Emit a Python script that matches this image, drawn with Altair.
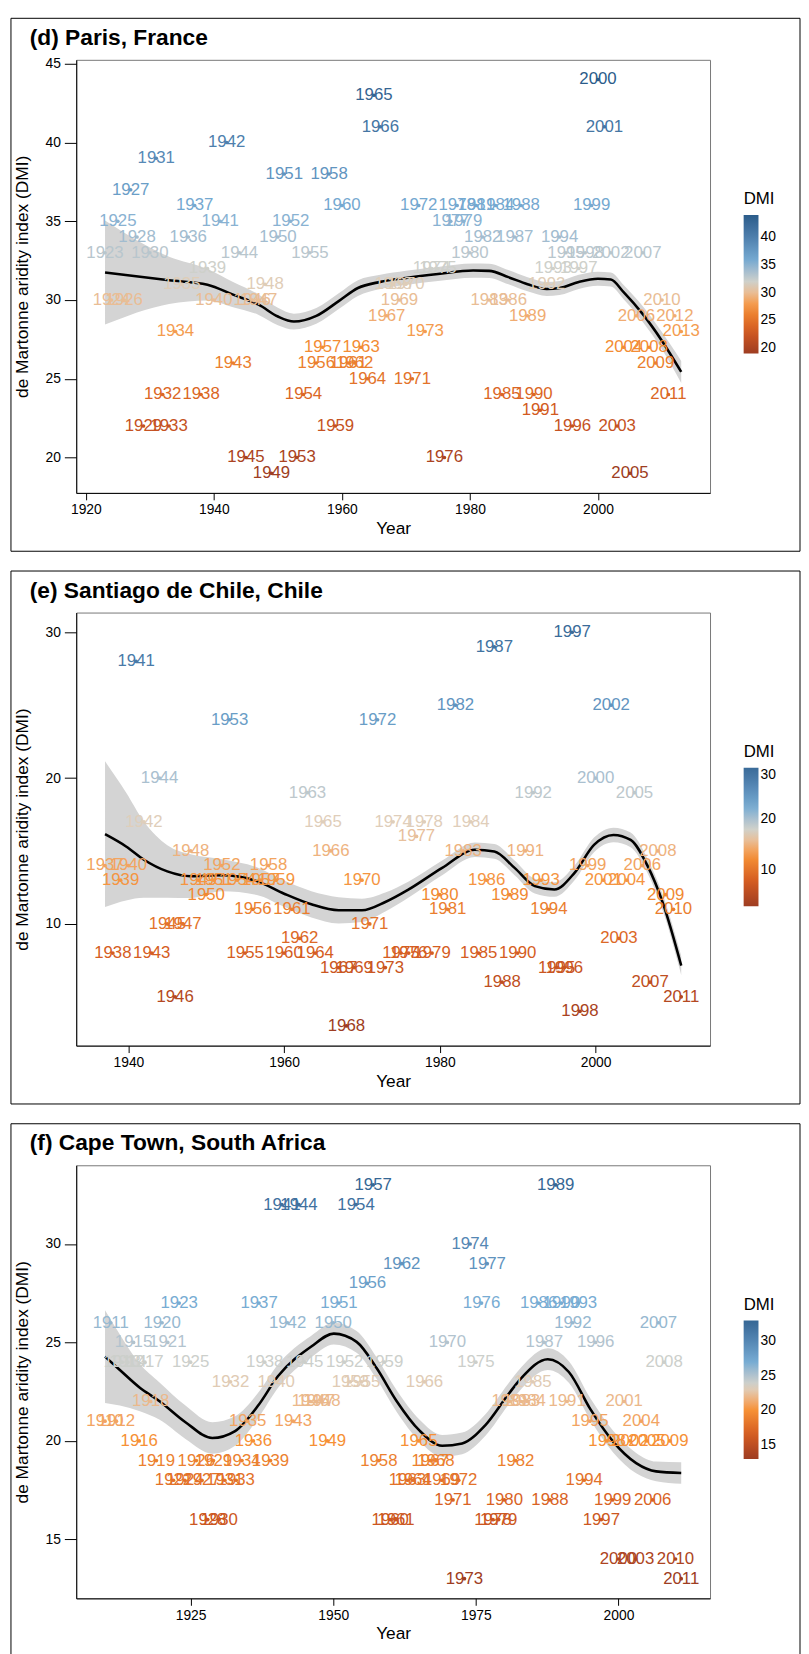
import altair as alt
import pandas as pd

FONT = "Liberation Sans"
W, H = 641, 438

# ---------------- data ----------------
PARIS_YEAR = list(range(1923, 2014))
PARIS_DMI = [33, 30, 35, 30, 37, 34, 22, 33, 39, 24,
             22, 28, 31, 34, 36, 24, 32, 30, 35, 40,
             26, 33, 20, 30, 30, 31, 19, 34, 38, 35,
             20, 24, 33, 26, 27, 38, 22, 36, 26, 26,
             27, 25, 43, 41, 29, 31, 30, 31, 25, 36,
             28, 32, 32, 20, 35, 36, 35, 33, 36, 34,
             30, 36, 24, 30, 34, 36, 29, 24, 23, 31,
             32, 34, 33, 22, 32, 33, 36, 44, 41, 33,
             22, 27, 19, 29, 33, 27, 26, 30, 24, 29,
             28]
PARIS_FIT_YEAR = [1923, 1933, 1939, 1943, 1947, 1950, 1952.5, 1956, 1959.5, 1962.5, 1966, 1970, 1975,
                  1980.5, 1983, 1986, 1989, 1992, 1994, 1997, 2000, 2002, 2004, 2007, 2010, 2013]
PARIS_FIT = [31.74, 31.25, 30.97, 30.34, 29.7, 28.95, 28.63, 28.99, 29.93, 30.76, 31.15, 31.4, 31.65,
             31.87, 31.85, 31.45, 31.0, 30.7, 30.76, 31.15, 31.35, 31.3, 30.5, 29.1, 27.4, 25.43]
PARIS_LO = [28.44, 29.75, 29.97, 29.54, 29.05, 28.4, 28.13, 28.49, 29.43, 30.26, 30.7, 30.95, 31.2,
            31.42, 31.4, 31.0, 30.55, 30.25, 30.31, 30.7, 30.9, 30.85, 30.05, 28.6, 26.85, 24.73]
PARIS_HI = [35.04, 32.75, 31.97, 31.14, 30.35, 29.5, 29.13, 29.49, 30.43, 31.26, 31.6, 31.85, 32.1,
            32.32, 32.3, 31.9, 31.45, 31.15, 31.21, 31.6, 31.8, 31.75, 30.95, 29.6, 27.95, 26.13]

SANT_YEAR = list(range(1937, 2012))
SANT_DMI = [14, 8, 13, 14, 28, 17, 8, 20, 10, 5,
            10, 15, 13, 12, 13, 14, 24, 13, 8, 11,
            13, 14, 13, 8, 11, 9, 19, 8, 17, 15,
            7, 3, 7, 13, 10, 24, 7, 17, 8, 8,
            16, 17, 8, 12, 11, 25, 15, 17, 8, 13,
            29, 6, 12, 8, 15, 19, 13, 11, 7, 7,
            30, 4, 14, 20, 13, 25, 9, 13, 19, 14,
            6, 15, 12, 11, 5]
SANT_FIT_YEAR = [1937, 1939.7, 1942, 1945, 1948, 1952, 1956.5, 1960, 1963.5, 1967, 1970, 1973, 1976,
                 1980.3, 1984.5, 1987, 1989.6, 1992.2, 1994.7, 1997.3, 1999.8, 2002.3, 2004.5, 2006.6,
                 2008.7, 2011]
SANT_FIT = [16.15, 15.31, 14.4, 13.6, 13.27, 13.33, 12.93, 12.07, 11.34, 10.93, 10.93, 11.5, 12.36,
            13.84, 15.08, 14.97, 13.84, 12.59, 12.36, 13.5, 15.42, 16.1, 15.76, 14.06, 11.34, 7.14]
SANT_LO = [11.15, 11.61, 11.8, 11.8, 11.77, 12.23, 11.98, 11.17, 10.44, 10.03, 10.13, 10.85, 11.81,
           13.34, 14.58, 14.47, 13.34, 12.09, 11.86, 13.0, 14.92, 15.6, 15.26, 13.56, 10.79, 6.49]
SANT_HI = [21.15, 19.01, 17.0, 15.4, 14.77, 14.43, 13.88, 12.97, 12.24, 11.83, 11.73, 12.15, 12.91,
           14.34, 15.58, 15.47, 14.34, 13.09, 12.86, 14.0, 15.92, 16.6, 16.26, 14.56, 11.89, 7.79]

CAPE_YEAR = list(range(1910, 2012))
CAPE_DMI = [21, 26, 21, 24, 24, 25, 20, 24, 22, 19,
            26, 25, 18, 27, 18, 24, 19, 18, 16, 19,
            16, 18, 23, 18, 19, 21, 20, 27, 24, 19,
            23, 32, 26, 21, 32, 24, 22, 22, 22, 20,
            26, 27, 24, 23, 32, 23, 28, 33, 19, 24,
            16, 16, 29, 18, 18, 20, 23, 19, 19, 18,
            25, 17, 18, 13, 30, 24, 27, 29, 16, 16,
            17, 22, 19, 22, 22, 23, 27, 25, 17, 33,
            27, 22, 26, 27, 18, 21, 25, 16, 20, 17,
            14, 22, 20, 14, 21, 20, 17, 26, 24, 20,
            14, 13]
CAPE_FIT_YEAR = [1910, 1912.6, 1916.1, 1919.5, 1924.1, 1928.8, 1932.8, 1936.8, 1940.3, 1946.1, 1950.1,
                 1954.1, 1957.6, 1961.1, 1965.1, 1969.1, 1972.6, 1976.6, 1980.7, 1983, 1987.6, 1991.3,
                 1995.1, 1999.1, 2003.1, 2006.6, 2011]
CAPE_FIT = [24.28, 23.6, 22.7, 22.03, 20.95, 20.15, 20.5, 21.78, 23.28, 24.78, 25.45,
            25.03, 23.7, 22.03, 20.53, 19.75, 19.87, 20.78, 22.37, 23.2, 24.15, 23.5,
            21.6, 19.95, 18.87, 18.45, 18.37]
CAPE_LO = [21.93, 21.8, 21.5, 21.08, 20.1, 19.35, 19.75, 21.13, 22.68, 24.23, 24.9,
           24.48, 23.15, 21.48, 19.98, 19.2, 19.32, 20.23, 21.82, 22.65, 23.6, 22.95,
           21.05, 19.4, 18.35, 17.95, 17.82]
CAPE_HI = [26.63, 25.4, 23.9, 22.98, 21.8, 20.95, 21.25, 22.43, 23.88, 25.33, 26.0,
           25.58, 24.25, 22.58, 21.08, 20.3, 20.42, 21.33, 22.92, 23.75, 24.7, 24.05,
           22.15, 20.5, 19.39, 18.95, 18.92]

PALETTE = ["#9E3D22", "#D45B21", "#F69035", "#D9D5C9", "#77ACD3", "#4F81AF", "#2B5C8A"]


def _rgb(h):
    h = h.lstrip("#")
    return [int(h[i:i + 2], 16) for i in (0, 2, 4)]


def _mix(c1, c2, t):
    a, b = _rgb(c1), _rgb(c2)
    return "#%02x%02x%02x" % tuple(int(round(x + (y - x) * t)) for x, y in zip(a, b))


def colour_scale(vals, mid):
    dmin, dmax = min(vals), max(vals)
    h = max(mid - dmin, dmax - mid)
    stops = [mid + h * (k - 3) / 3 for k in range(7)]
    cols = list(PALETTE)
    i = next(k for k in range(7) if stops[k] > dmin)
    if i > 0 and stops[i - 1] < dmin:
        c = _mix(cols[i - 1], cols[i], (dmin - stops[i - 1]) / (stops[i] - stops[i - 1]))
        stops = [dmin] + stops[i:]
        cols = [c] + cols[i:]
    j = max(k for k in range(len(stops)) if stops[k] < dmax)
    if j < len(stops) - 1 and stops[j + 1] > dmax:
        c = _mix(cols[j], cols[j + 1], (dmax - stops[j]) / (stops[j + 1] - stops[j]))
        stops = stops[:j + 1] + [dmax]
        cols = cols[:j + 1] + [c]
    return alt.Scale(domain=stops, range=cols, interpolate="lab")


def panel(title, years, dmi, fy, ffit, flo, fhi, mid, xticks, yticks, legvals):
    df = pd.DataFrame({"Year": years, "DMI": dmi})
    df["label"] = df["Year"].astype(str)
    sm = pd.DataFrame({"Year": fy, "fit": ffit, "lo": flo, "hi": fhi})

    xmin, xmax = min(years), max(years)
    ylo, yhi = min(min(dmi), min(flo)), max(max(dmi), max(fhi))
    xp, yp = 0.05 * (xmax - xmin), 0.05 * (yhi - ylo)
    xs = alt.Scale(domain=[xmin - xp, xmax + xp], nice=False, zero=False)
    ys = alt.Scale(domain=[ylo - yp, yhi + yp], nice=False, zero=False)

    xaxis = alt.Axis(values=xticks, format="d", title="Year", grid=False, tickSize=7,
                     labelPadding=3, titlePadding=3)
    yaxis = alt.Axis(values=yticks, title="de Martonne aridity index (DMI)", grid=False,
                     tickSize=12, labelPadding=4, titlePadding=14)
    cs = colour_scale(dmi, mid)
    leg = alt.Legend(title="DMI", orient="none", legendX=W + 34, legendY=133,
                     direction="vertical", gradientLength=140, gradientThickness=15,
                     values=legvals, gradientStrokeWidth=0, titlePadding=7)

    X = alt.X("Year:Q", scale=xs, axis=xaxis)
    Y = alt.Y("DMI:Q", scale=ys, axis=yaxis)
    C = alt.Color("DMI:Q", scale=cs, legend=leg)

    band = alt.Chart(sm).mark_area(color="#D4D4D4", opacity=1, interpolate="monotone").encode(
        x=alt.X("Year:Q", scale=xs, axis=xaxis),
        y=alt.Y("lo:Q", scale=ys, axis=yaxis), y2="hi:Q")
    line = alt.Chart(sm).mark_line(color="black", strokeWidth=2.6, interpolate="monotone").encode(
        x=alt.X("Year:Q", scale=xs, axis=xaxis),
        y=alt.Y("fit:Q", scale=ys, axis=yaxis))
    pts = alt.Chart(df).mark_circle(size=14, opacity=1).encode(x=X, y=Y, color=C)
    txt = alt.Chart(df).mark_text(fontSize=17, font=FONT, align="center", baseline="middle").encode(
        x=X, y=Y, color=C, text="label:N")

    one = pd.DataFrame({"k": [0]})
    ttl = alt.Chart(one).mark_text(text=title, font=FONT, fontSize=23, fontWeight="bold",
                                   align="left", baseline="middle", color="black").encode(
        x=alt.value(-47), y=alt.value(-22))
    box = alt.Chart(one).mark_rect(filled=False, stroke="black", strokeWidth=1).encode(
        x=alt.value(-66), x2=alt.value(W + 91), y=alt.value(-42), y2=alt.value(H + 59))

    return alt.layer(band, line, pts, txt, ttl, box).properties(width=W, height=H)


pd_ = panel("(d) Paris, France", PARIS_YEAR, PARIS_DMI, PARIS_FIT_YEAR, PARIS_FIT, PARIS_LO, PARIS_HI,
            31.5, [1920, 1940, 1960, 1980, 2000], [20, 25, 30, 35, 40, 45], [20, 25, 30, 35, 40])
pe_ = panel("(e) Santiago de Chile, Chile", SANT_YEAR, SANT_DMI, SANT_FIT_YEAR, SANT_FIT, SANT_LO,
            SANT_HI, 17.5, [1940, 1960, 1980, 2000], [10, 20, 30], [10, 20, 30])
pf_ = panel("(f) Cape Town, South Africa", CAPE_YEAR, CAPE_DMI, CAPE_FIT_YEAR, CAPE_FIT, CAPE_LO,
            CAPE_HI, 23.5, [1925, 1950, 1975, 2000], [15, 20, 25, 30], [15, 20, 25, 30])

chart = alt.vconcat(pd_, pe_, pf_, spacing=18).resolve_scale(
    x="independent", y="independent", color="independent"
).properties(
    padding={"left": 2, "top": 0, "right": 0, "bottom": 0}
).configure_view(
    stroke="#777777", strokeWidth=1
).configure_axis(
    labelFont=FONT, titleFont=FONT, labelFontSize=14, titleFontSize=17.5, titleFontWeight="normal",
    labelColor="black", titleColor="black", domainColor="black", tickColor="black",
    domainWidth=1, tickWidth=1
).configure_legend(
    labelFont=FONT, titleFont=FONT, labelFontSize=14, titleFontSize=17, titleFontWeight="normal",
    labelColor="black", titleColor="black"
)

chart.save("out.html", embed_options={"renderer": "svg", "actions": False})
